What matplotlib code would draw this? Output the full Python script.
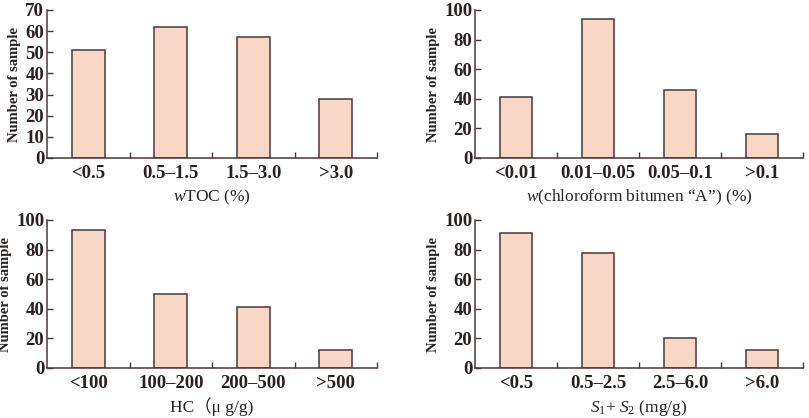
import matplotlib.pyplot as plt
import numpy as np

plt.rcParams['font.family'] = ['Liberation Serif', 'Noto Sans CJK SC', 'DejaVu Serif']
plt.rcParams['mathtext.fontset'] = 'custom'
plt.rcParams['mathtext.rm'] = 'Liberation Serif'
plt.rcParams['mathtext.it'] = 'Liberation Serif:italic'

toc_labels = ['<0.5', '0.5–1.5', '1.5–3.0', '>3.0']
toc_counts = [51, 62, 57, 28]

bitumen_labels = ['<0.01', '0.01–0.05', '0.05–0.1', '>0.1']
bitumen_counts = [41, 94, 46, 16]

hc_labels = ['<100', '100–200', '200–500', '>500']
hc_counts = [93, 50, 41, 12]

s1s2_labels = ['<0.5', '0.5–2.5', '2.5–6.0', '>6.0']
s1s2_counts = [91, 78, 20, 12]

panels = [
    (toc_labels, toc_counts, '$w$TOC (%)', 70, 10),
    (bitumen_labels, bitumen_counts, '$w$(chloroform bitumen “A”) (%)', 100, 20),
    (hc_labels, hc_counts, 'HC（μ g/g)', 100, 20),
    (s1s2_labels, s1s2_counts, '$S_1$+ $S_2$ (mg/g)', 100, 20),
]

W, H = 809, 418
rects = [(47, 10, 330, 148), (475, 10, 328, 148),
         (47, 220, 330, 148), (475, 220, 328, 148)]

fig = plt.figure(figsize=(W / 100, H / 100), dpi=100)
edge = '#4a3838'
fill = '#f9d7c6'
txt = '#2a2020'

for (labels, counts, xlab, ymax, ystep), (x0, y0, w, h) in zip(panels, rects):
    ax = fig.add_axes([x0 / W, 1 - (y0 + h) / H, w / W, h / H])
    x = np.arange(len(labels))
    ax.bar(x, counts, width=0.4, color=fill, edgecolor=edge, linewidth=1.1)
    ax.set_xlim(-0.5, len(labels) - 0.5)
    ax.set_ylim(0, ymax)
    ax.set_yticks(np.arange(0, ymax + 1, ystep))
    ax.set_xticks(x)
    ax.set_xticklabels(labels)
    ax.set_xticks(np.arange(0.5, len(labels), 1.0), minor=True)
    ax.tick_params(axis='x', which='major', length=0, pad=5, labelsize=13.5)
    ax.tick_params(axis='x', which='minor', direction='in', length=4, width=1, color=edge)
    ax.tick_params(axis='y', direction='in', length=4, width=1, color=edge, pad=2, labelsize=13.5)
    for lab in ax.get_xticklabels() + ax.get_yticklabels():
        lab.set_fontweight('bold')
        lab.set_color(txt)
    for s in ['top', 'right']:
        ax.spines[s].set_visible(False)
    for s in ['left', 'bottom']:
        ax.spines[s].set_color(edge)
        ax.spines[s].set_linewidth(1.1)
    ax.set_xlabel(xlab, fontsize=12.5, color=txt, labelpad=4)
    ax.set_ylabel('Number of sample', fontsize=10.5, fontweight='bold', color=txt, labelpad=3)

fig.savefig('out.png', dpi=100)
